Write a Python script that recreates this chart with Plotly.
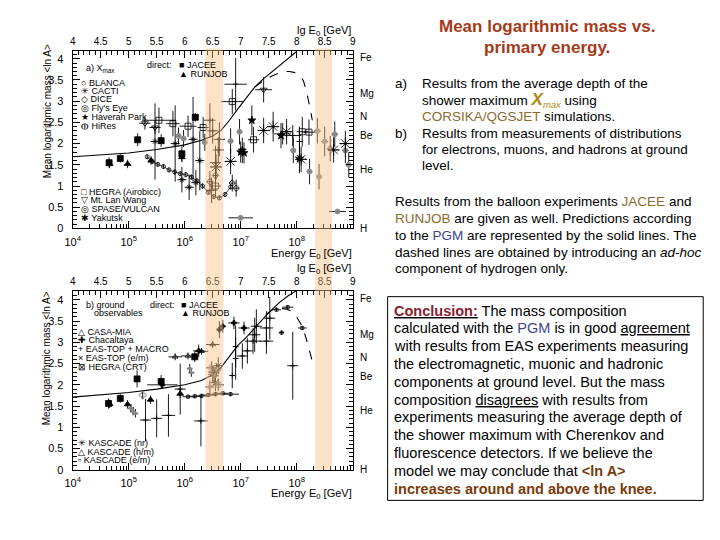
import math
import plotly.graph_objects as go

FONT = "Liberation Sans"
W, H = 720, 540

# ---------------- axis definitions ----------------
LG_TICKS = [4, 5, 6, 7, 8, 9]
LG_TICKTEXT = ["10<sup>4</sup>", "10<sup>5</sup>", "10<sup>6</sup>", "10<sup>7</sup>", "10<sup>8</sup>", ""]
TOP_TICKS = [4, 4.5, 5, 5.5, 6, 6.5, 7, 7.5, 8, 8.5, 9]
TOP_TICKTEXT = ["4", "4.5", "5", "5.5", "6", "6.5", "7", "7.5", "8", "8.5", "9"]
LNA_TICKS = [0, 0.5, 1, 1.5, 2, 2.5, 3, 3.5, 4]
LNA_TICKTEXT = ["0", "0.5", "1", "1.5", "2", "2.5", "3", "3.5", "4"]
ELEMENTS = ["Fe", "Mg", "N", "Be", "He", "H"]
ELEMENT_LNA = [4.03, 3.18, 2.64, 2.20, 1.39, 0.0]
BANDS = [(6.37, 6.69), (8.33, 8.63)]

# ---------------- model curves ----------------
PGM_A_LG = [4.0, 4.5, 5.0, 5.5, 6.0, 6.3, 6.5, 6.65, 6.8, 6.95, 7.1, 7.25, 7.4, 7.55, 7.7, 7.85, 8.0]
PGM_A_LNA = [1.69, 1.73, 1.78, 1.86, 1.97, 2.08, 2.18, 2.31, 2.55, 2.82, 3.08, 3.33, 3.52, 3.68, 3.84, 4.0, 4.17]
HADHOC_A_LG = [7.25, 7.4, 7.55, 7.7, 7.8, 7.87, 7.95, 8.05, 8.12, 8.17, 8.21, 8.25, 8.28]
HADHOC_A_LNA = [3.33, 3.48, 3.59, 3.67, 3.70, 3.70, 3.68, 3.62, 3.48, 3.27, 3.02, 2.78, 2.55]
PGM_B_LG = [4.0, 4.5, 5.0, 5.5, 6.0, 6.3, 6.5, 6.65, 6.8, 6.95, 7.1, 7.3, 7.5, 7.7, 7.85, 8.0]
PGM_B_LNA = [1.71, 1.76, 1.82, 1.90, 2.00, 2.10, 2.24, 2.41, 2.68, 2.93, 3.12, 3.42, 3.70, 3.95, 4.10, 4.22]
HADHOC_B_LG = [7.45, 7.58, 7.7, 7.8, 7.9, 8.0, 8.08, 8.14, 8.2, 8.27]
HADHOC_B_LNA = [3.65, 3.78, 3.80, 3.79, 3.74, 3.60, 3.42, 3.22, 2.95, 2.60]

# ---------------- (a) Xmax data ----------------
JACEE_A_LG = [4.65, 4.85, 5.16, 5.58, 5.95, 6.19]
JACEE_A_LNA = [1.55, 1.65, 2.09, 2.07, 1.76, 2.62]
JACEE_A_YERR = [0.12, 0.10, 0.15, 0.15, 0.20, 0.10]
RUNJOB_A_LG = [4.66, 4.98, 5.40, 5.95]
RUNJOB_A_LNA = [1.52, 1.52, 1.60, 1.68]
RUNJOB_A_YERR = [0.10, 0.10, 0.10, 0.10]
BLANCA_LG = [5.33, 5.42, 5.52, 5.62, 5.72, 5.82, 5.92, 6.02, 6.12, 6.22, 6.32, 6.42, 6.52, 6.62, 6.72, 6.82]
BLANCA_LNA = [1.69, 1.58, 1.51, 1.46, 1.38, 1.33, 1.29, 1.27, 1.21, 1.12, 1.00, 0.85, 0.75, 0.72, 0.80, 0.98]
BLANCA_YERR = [0.06] * 16
CACTI_LG = [5.47, 5.83, 5.95, 6.08, 6.15, 6.20, 6.27]
CACTI_LNA = [2.05, 2.00, 1.15, 0.97, 2.10, 1.08, 1.60]
CACTI_YERR = [0.90, 0.90, 0.30, 0.30, 1.00, 0.30, 0.70]
DICE_LG = [6.45, 6.55, 6.85, 6.92]
DICE_LNA = [1.10, 1.25, 1.07, 0.95]
DICE_YERR = [0.25, 0.25, 0.20, 0.20]
FLYSEYE_LG = [6.82, 6.98, 7.0, 7.94, 8.23, 8.40, 8.73]
FLYSEYE_LNA = [2.06, 2.28, 0.25, 1.84, 1.34, 1.22, 0.40]
FLYSEYE_XERR = [0.05, 0.05, 0.22, 0.05, 0.05, 0.05, 0.15]
FLYSEYE_YERR = [0.30, 0.30, 0.05, 0.30, 0.30, 0.30, 0.05]
HAVERAH_LG = [7.00, 7.03, 7.06, 7.20, 7.72, 8.05]
HAVERAH_LNA = [1.80, 1.84, 1.78, 2.55, 2.19, 1.65]
HAVERAH_YERR = [0.25, 0.30, 0.25, 0.35, 0.30, 0.35]
HIRES_LG = [8.37, 8.50, 8.60, 8.68, 8.87, 8.93]
HIRES_LNA = [2.30, 2.05, 1.88, 2.22, 1.84, 1.50]
HIRES_YERR = [0.30, 0.35, 0.30, 0.30, 0.30, 0.30]
HEGRA_A_LG = [5.54, 5.79, 6.06, 6.33, 6.55, 6.85, 7.23, 8.10, 8.22]
HEGRA_A_LNA = [2.55, 2.47, 2.41, 2.38, 1.00, 2.99, 2.09, 2.28, 2.27]
HEGRA_A_XERR = [0.30, 0.12, 0.15, 0.10, 0.10, 0.20, 0.10, 0.10, 0.10]
HEGRA_A_YERR = [0.30, 0.30, 0.25, 0.25, 0.25, 0.30, 0.30, 0.35, 0.30]
MTLAN_LG = [5.29, 5.47, 7.41]
MTLAN_LNA = [2.48, 2.38, 3.27]
MTLAN_XERR = [0.10, 0.10, 0.15]
MTLAN_YERR = [0.15, 0.15, 0.30]
SPASE_LG = [5.89, 5.98, 6.36]
SPASE_LNA = [2.18, 2.12, 2.03]
SPASE_YERR = [0.20, 0.20, 0.20]
YAKUTSK_LG = [6.56, 6.82, 7.41, 7.58, 7.82, 8.08, 8.66, 8.87]
YAKUTSK_LNA = [1.45, 1.58, 2.31, 2.40, 2.28, 1.63, 1.85, 2.00]
YAKUTSK_YERR = [0.30, 0.30, 0.30, 0.35, 0.30, 0.30, 0.30, 0.30]
OTHER_A_LG = [6.45, 6.50, 6.55, 6.60, 6.62, 6.48, 6.91, 7.75, 7.93, 8.05]
OTHER_A_LNA = [2.55, 2.30, 1.55, 1.85, 2.10, 0.90, 3.40, 2.23, 2.19, 2.05]
OTHER_A_XERR = [0.10, 0.10, 0.10, 0.10, 0.10, 0.10, 0.20, 0.15, 0.15, 0.05]
OTHER_A_YERR = [0.40, 0.30, 0.40, 0.30, 0.40, 0.30, 0.62, 0.25, 0.25, 0.35]

# ---------------- (b) ground data ----------------
JACEE_B_LG = [4.64, 4.85, 5.15, 5.58, 6.18]
JACEE_B_LNA = [1.56, 1.68, 2.14, 2.08, 2.66]
JACEE_B_YERR = [0.12, 0.10, 0.20, 0.15, 0.12]
RUNJOB_B_LG = [4.66, 4.98, 5.39, 5.92]
RUNJOB_B_LNA = [1.55, 1.54, 1.65, 1.79]
RUNJOB_B_YERR = [0.10, 0.10, 0.10, 0.10]
CASAMIA_LG = [5.04, 5.08, 5.12, 6.09, 6.12]
CASAMIA_LNA = [1.45, 1.38, 1.33, 2.39, 2.29]
CASAMIA_YERR = [0.10, 0.10, 0.10, 0.10, 0.10]
CHACALTAYA_LG = [5.25]
CHACALTAYA_LNA = [1.76]
EASTOP_MACRO_LG = [5.60, 6.25, 6.62, 6.68, 6.88, 7.06]
EASTOP_MACRO_LNA = [2.00, 2.80, 3.30, 3.38, 3.46, 3.34]
EASTOP_MACRO_XERR = [0.27, 0.10, 0.05, 0.05, 0.10, 0.10]
EASTOP_MACRO_YERR = [0.10, 0.15, 0.20, 0.15, 0.15, 0.15]
EASTOP_EM_LG = [6.50, 6.55, 6.60]
EASTOP_EM_LNA = [2.25, 2.05, 2.45]
HEGRA_B_LG = [6.48, 6.52, 6.60]
HEGRA_B_LNA = [2.40, 2.30, 2.00]
KASCADE_NR_LG = [6.45, 6.53, 6.57]
KASCADE_NR_LNA = [1.95, 2.21, 2.35]
KASCADE_HM_LG = [5.83, 6.06, 6.30, 6.50]
KASCADE_HM_LNA = [2.66, 2.68, 2.79, 2.95]
KASCADE_EM_LG = [6.06, 6.18, 6.30, 6.42, 6.55, 6.68, 6.82, 7.64, 7.73, 7.84, 8.10]
KASCADE_EM_LNA = [1.72, 1.73, 1.74, 1.76, 1.78, 1.80, 1.78, 3.77, 3.23, 3.83, 3.34]
KASCADE_EM_XERR = [0.10, 0.10, 0.10, 0.10, 0.10, 0.10, 0.15, 0.08, 0.05, 0.10, 0.08]
OTHER_B_LG = [5.30, 5.50, 5.71, 5.92, 6.29, 6.85, 6.91, 6.91, 7.03, 7.12, 7.22, 7.25, 7.28, 7.46, 7.46, 7.52, 7.93]
OTHER_B_LNA = [1.17, 1.21, 1.28, 1.90, 1.15, 2.22, 2.90, 2.62, 2.68, 2.80, 3.03, 3.18, 3.38, 3.34, 3.03, 3.57, 2.45]
OTHER_B_XERR = [0.10, 0.10, 0.12, 0.10, 0.12, 0.05, 0.05, 0.05, 0.10, 0.10, 0.15, 0.10, 0.10, 0.12, 0.12, 0.10, 0.10]
OTHER_B_YERR = [0.50, 0.45, 0.50, 0.60, 0.60, 0.30, 0.50, 0.50, 0.30, 0.30, 0.30, 0.40, 0.40, 0.40, 0.30, 0.50, 0.80]

fig = go.Figure()
GRAY = "#8a8a8a"


def zeros(n):
    return [0] * n


def add_pts(lg, lna, symbol, size, color, xa, ya, xerr=None, yerr=None, lw=0.8, mode="markers", barcolor="black"):
    n = len(lg)
    fig.add_trace(go.Scatter(
        x=lg, y=lna, mode=mode, xaxis=xa, yaxis=ya, showlegend=False, hoverinfo="skip",
        line=dict(color=color, width=0.7),
        marker=dict(symbol=symbol, size=size, color=color, line=dict(color=color, width=lw)),
        error_x=dict(type="data", array=xerr if xerr else zeros(n), visible=True, color=barcolor, thickness=0.9, width=0),
        error_y=dict(type="data", array=yerr if yerr else zeros(n), visible=True, color=barcolor, thickness=0.9, width=0),
    ))


def add_line(lg, lna, dash, xa, ya):
    fig.add_trace(go.Scatter(x=lg, y=lna, mode="lines", xaxis=xa, yaxis=ya, showlegend=False,
                             hoverinfo="skip", line=dict(color="black", width=1.1, dash=dash)))


# ----- plot (a)
add_line(PGM_A_LG, PGM_A_LNA, "solid", "x", "y")
add_line(HADHOC_A_LG, HADHOC_A_LNA, "dash", "x", "y")
add_pts(BLANCA_LG, BLANCA_LNA, "circle-open", 4, "black", "x", "y", yerr=BLANCA_YERR, mode="lines+markers")
add_pts(CACTI_LG, CACTI_LNA, "asterisk-open", 5, "black", "x", "y", xerr=[0.08] * len(CACTI_LG), yerr=CACTI_YERR)
add_pts(DICE_LG, DICE_LNA, "diamond-open", 5, "black", "x", "y", xerr=[0.05] * len(DICE_LG), yerr=DICE_YERR)
add_pts(FLYSEYE_LG, FLYSEYE_LNA, "circle-dot", 5, GRAY, "x", "y", xerr=FLYSEYE_XERR, yerr=FLYSEYE_YERR)
add_pts(HAVERAH_LG, HAVERAH_LNA, "star", 6, "black", "x", "y", xerr=[0.05] * len(HAVERAH_LG), yerr=HAVERAH_YERR)
add_pts(HIRES_LG, HIRES_LNA, "circle-cross", 5, GRAY, "x", "y", xerr=[0.06] * len(HIRES_LG), yerr=HIRES_YERR)
add_pts(HEGRA_A_LG, HEGRA_A_LNA, "square-open", 6, "black", "x", "y", xerr=HEGRA_A_XERR, yerr=HEGRA_A_YERR)
add_pts(MTLAN_LG, MTLAN_LNA, "triangle-down-open", 6, "black", "x", "y", xerr=MTLAN_XERR, yerr=MTLAN_YERR)
add_pts(SPASE_LG, SPASE_LNA, "circle-dot", 5, GRAY, "x", "y", xerr=[0.05] * len(SPASE_LG), yerr=SPASE_YERR)
add_pts(YAKUTSK_LG, YAKUTSK_LNA, "asterisk-open", 10, "black", "x", "y", xerr=[0.1] * len(YAKUTSK_LG), yerr=YAKUTSK_YERR)
add_pts(OTHER_A_LG, OTHER_A_LNA, "cross-thin-open", 4, "black", "x", "y", xerr=OTHER_A_XERR, yerr=OTHER_A_YERR)
add_pts(JACEE_A_LG, JACEE_A_LNA, "square", 6, "black", "x", "y", yerr=JACEE_A_YERR)
add_pts(RUNJOB_A_LG, RUNJOB_A_LNA, "triangle-up", 6, "black", "x", "y", yerr=RUNJOB_A_YERR)

# ----- plot (b)
add_line(PGM_B_LG, PGM_B_LNA, "solid", "x3", "y2")
add_line(HADHOC_B_LG, HADHOC_B_LNA, "dash", "x3", "y2")
add_pts(OTHER_B_LG, OTHER_B_LNA, "cross-thin-open", 4, "black", "x3", "y2", xerr=OTHER_B_XERR, yerr=OTHER_B_YERR)
add_pts(CASAMIA_LG, CASAMIA_LNA, "triangle-up", 4, GRAY, "x3", "y2", xerr=[0.05] * len(CASAMIA_LG), yerr=CASAMIA_YERR)
add_pts(CHACALTAYA_LG, CHACALTAYA_LNA, "cross-open", 6, GRAY, "x3", "y2", yerr=[0.1])
add_pts(EASTOP_MACRO_LG, EASTOP_MACRO_LNA, "cross", 4, "black", "x3", "y2", xerr=EASTOP_MACRO_XERR, yerr=EASTOP_MACRO_YERR)
add_pts(EASTOP_EM_LG, EASTOP_EM_LNA, "x-thin-open", 6, "black", "x3", "y2", xerr=[0.08] * 3, yerr=[0.2] * 3)
add_pts(HEGRA_B_LG, HEGRA_B_LNA, "square-x-open", 5, GRAY, "x3", "y2", xerr=[0.1] * 3, yerr=[0.15] * 3)
add_pts(KASCADE_NR_LG, KASCADE_NR_LNA, "asterisk-open", 5, GRAY, "x3", "y2", xerr=[0.08] * 3, yerr=[0.15] * 3)
add_pts(KASCADE_HM_LG, KASCADE_HM_LNA, "triangle-up-open", 5, "black", "x3", "y2", xerr=[0.12] * 4, yerr=[0.08] * 4)
add_pts(KASCADE_EM_LG, KASCADE_EM_LNA, "square-open", 3, "black", "x3", "y2", xerr=KASCADE_EM_XERR, yerr=[0.05] * len(KASCADE_EM_LG))
add_pts(JACEE_B_LG, JACEE_B_LNA, "square", 6, "black", "x3", "y2", yerr=JACEE_B_YERR)
add_pts(RUNJOB_B_LG, RUNJOB_B_LNA, "triangle-up", 6, "black", "x3", "y2", yerr=RUNJOB_B_YERR)

# invisible traces so that the upper lg(E) axes are drawn
for xa, ya in (("x2", "y"), ("x4", "y2")):
    fig.add_trace(go.Scatter(x=TOP_TICKS, y=[None] * len(TOP_TICKS), xaxis=xa, yaxis=ya, mode="markers",
                             marker=dict(opacity=0), showlegend=False, hoverinfo="skip"))

# ---------------- axes ----------------
MINOR_LOG = [n + math.log10(k) for n in range(4, 9) for k in range(2, 10)]
tickfont = dict(family=FONT, size=11, color="black")


def px_x(x):
    return x / W


def px_y(y):
    return 1 - y / H


XDOM = [px_x(65.7), px_x(350)]
YDOM_A = [px_y(231), px_y(51.7)]
YDOM_B = [px_y(475), px_y(294.3)]

common_x = dict(range=[4, 9], showgrid=False, zeroline=False, showline=True, linecolor="black", linewidth=1,
                ticks="inside", ticklen=7, tickcolor="black", tickfont=tickfont, tickwidth=1)
bottom_x = dict(common_x, tickmode="array", tickvals=LG_TICKS, ticktext=LG_TICKTEXT, domain=XDOM,
                minor=dict(tickmode="array", tickvals=MINOR_LOG, ticklen=4, ticks="inside", tickcolor="black"),
                ticklabelstandoff=3)
top_x = dict(common_x, tickmode="array", tickvals=TOP_TICKS, ticktext=TOP_TICKTEXT, side="top",
             minor=dict(dtick=0.1, ticklen=4, ticks="inside", tickcolor="black"), ticklabelstandoff=1,
             tickfont=dict(family=FONT, size=10, color="black"))
common_y = dict(showgrid=False, zeroline=False, showline=True, linecolor="black", linewidth=1, mirror="ticks",
                ticks="inside", ticklen=7, tickcolor="black", tickmode="array", tickvals=LNA_TICKS,
                ticktext=LNA_TICKTEXT, tickfont=tickfont, tickwidth=1,
                minor=dict(dtick=0.1, ticklen=4, ticks="inside", tickcolor="black"), ticklabelstandoff=6)

fig.update_layout(
    width=W, height=H, margin=dict(l=0, r=0, t=0, b=0),
    paper_bgcolor="white", plot_bgcolor="white", showlegend=False,
    font=dict(family=FONT, color="black"),
    xaxis=dict(bottom_x, anchor="y"),
    xaxis2=dict(top_x, overlaying="x", anchor="y"),
    yaxis=dict(common_y, domain=YDOM_A, range=[0, 4.18], anchor="x"),
    xaxis3=dict(bottom_x, anchor="y2"),
    xaxis4=dict(top_x, overlaying="x3", anchor="y2"),
    yaxis2=dict(common_y, domain=YDOM_B, range=[0, 4.21], anchor="x3"),
)

# ---------------- bands ----------------
shapes = []
for lo, hi in BANDS:
    shapes.append(dict(type="rect", xref="x", yref="paper", x0=lo, x1=hi, y0=px_y(475), y1=px_y(49),
                       fillcolor="rgba(248,190,130,0.45)", line=dict(width=0), layer="above"))
# conclusion box
shapes.append(dict(type="rect", xref="paper", yref="paper", x0=px_x(385.5), x1=px_x(706), y0=px_y(506),
                   y1=px_y(300), line=dict(color="black", width=1), fillcolor="rgba(0,0,0,0)"))
fig.update_layout(shapes=shapes)

ann = []


def T(x, y, text, size=14, color="black", xanchor="left", angle=0):
    ann.append(dict(xref="paper", yref="paper", x=px_x(x), y=px_y(y), text=text, showarrow=False,
                    xanchor=xanchor, yanchor="middle", textangle=angle, borderpad=0,
                    font=dict(family=FONT, size=size, color=color)))


# element labels
for yref in ("y", "y2"):
    for el, v in zip(ELEMENTS, ELEMENT_LNA):
        ann.append(dict(xref="paper", yref=yref, x=px_x(355), y=v, text=el, showarrow=False, xanchor="left",
                        yanchor="middle", font=dict(family=FONT, size=10, color="black")))

# axis titles
T(40, 112, "Mean logarithmic mass &lt;ln A&gt;", size=10, xanchor="center", angle=-90)
T(40, 362, "Mean logarithmic mass &lt;ln A&gt;", size=10, xanchor="center", angle=-90)
T(350, 257, "Energy E<sub>0</sub> [GeV]", size=11, xanchor="right")
T(350, 500, "Energy E<sub>0</sub> [GeV]", size=11, xanchor="right")
T(349, 31, "lg E<sub>0</sub> [GeV]", size=11, xanchor="right")
T(349, 272, "lg E<sub>0</sub> [GeV]", size=11, xanchor="right")

# legends (a)
LS = 9
T(78, 69, "a) X<sub>max</sub>", LS)
T(168, 66, "direct:", LS, xanchor="right")
T(173, 66, "■ JACEE", LS)
T(173, 75, "▲ RUNJOB", LS)
legend_a = [("○ BLANCA", 84), ("✳ CACTI", 92), ("◇ DICE", 100), ("◎ Fly's Eye", 109),
            ("★ Haverah Park", 118), ("⦶ HiRes", 127), ("□ HEGRA (Airobicc)", 194),
            ("▽ Mt. Lan Wang", 202), ("◎ SPASE/VULCAN", 211), ("✱ Yakutsk", 220)]
for txt, yy in legend_a:
    T(73, yy, txt, LS)

# legends (b)
T(78, 308, "b) ground", LS)
T(86, 317, "observables", LS)
T(171, 308, "direct:", LS, xanchor="right")
T(175, 308, "■ JACEE", LS)
T(175, 317, "▲ RUNJOB", LS)
legend_b = [("△ CASA-MIA", 336), ("✚ Chacaltaya", 344), ("+ EAS-TOP + MACRO", 353),
            ("× EAS-TOP (e/m)", 362), ("⊠ HEGRA (CRT)", 371), ("✳ KASCADE (nr)", 448),
            ("△ KASCADE (h/m)", 457), ("▫ KASCADE (e/m)", 465)]
for txt, yy in legend_b:
    T(70, yy, txt, LS)

# right column text
TITLE_C = "#A63A17"
BROWN = "#8B6B2E"
PGM_C = "#44448A"
T(547, 27, "<b>Mean logarithmic mass vs.</b>", 17, TITLE_C, "center")
T(547, 48, "<b>primary energy.</b>", 17, TITLE_C, "center")
FS = 13.5
T(392, 84, "a)", FS)
T(419, 84, "Results from the average depth of the", FS)
T(419, 101, "shower maximum <b><i><span style='color:#B08A10;font-size:17px'>X</span></i></b>"
            "<sub><i><span style='color:#B08A10'>max</span></i></sub> using", FS)
T(419, 118, f"<span style='color:{BROWN}'>CORSIKA/QGSJET</span> simulations.", FS)
T(392, 135, "b)", FS)
T(419, 135, "Results from measurements of distributions", FS)
T(419, 151, "for electrons, muons, and hadrons at ground", FS)
T(419, 167, "level.", FS)

T(392, 204, f"Results from the balloon experiments <span style='color:{BROWN}'>JACEE</span> and", FS)
T(392, 221, f"<span style='color:{BROWN}'>RUNJOB</span> are given as well. Predictions according", FS)
T(392, 238, f"to the <span style='color:{PGM_C}'>PGM</span> are represented by the solid lines. The", FS)
T(392, 255, "dashed lines are obtained by introducing an <i>ad-hoc</i>", FS)
T(392, 272, "component of hydrogen only.", FS)

CONC_C = "#8B1C2C"
KNEE_C = "#7A3B0A"
conc_lines = [
    f"<u><b><span style='color:{CONC_C}'>Conclusion:</span></b></u> The mass composition",
    f"calculated with the <span style='color:{PGM_C}'>PGM</span> is in good <u>agreement</u>",
    "with results from EAS experiments measuring",
    "the electromagnetic, muonic and hadronic",
    "components at ground level. But the mass",
    "composition <u>disagrees</u> with results from",
    "experiments measuring the average depth of",
    "the shower maximum with Cherenkov and",
    "fluorescence detectors. If we believe the",
    f"model we may conclude that <b><span style='color:{KNEE_C}'>&lt;ln A&gt;</span></b>",
    f"<b><span style='color:{KNEE_C}'>increases around and above the knee.</span></b>",
]
for i, line in enumerate(conc_lines):
    T(391, 314 + 18 * i, line, 14.5)

fig.update_layout(annotations=ann)
POST = ("var gd=document.getElementById('{plot_id}');"
        "document.documentElement.style.margin='0';document.documentElement.style.padding='0';"
        "document.documentElement.style.overflow='hidden';"
        "document.body.style.margin='0';document.body.style.padding='0';document.body.style.overflow='hidden';"
        "gd.style.position='fixed';gd.style.left='0px';gd.style.top='0px';")
fig.write_html("out.html", post_script=POST, config={"displayModeBar": False})
